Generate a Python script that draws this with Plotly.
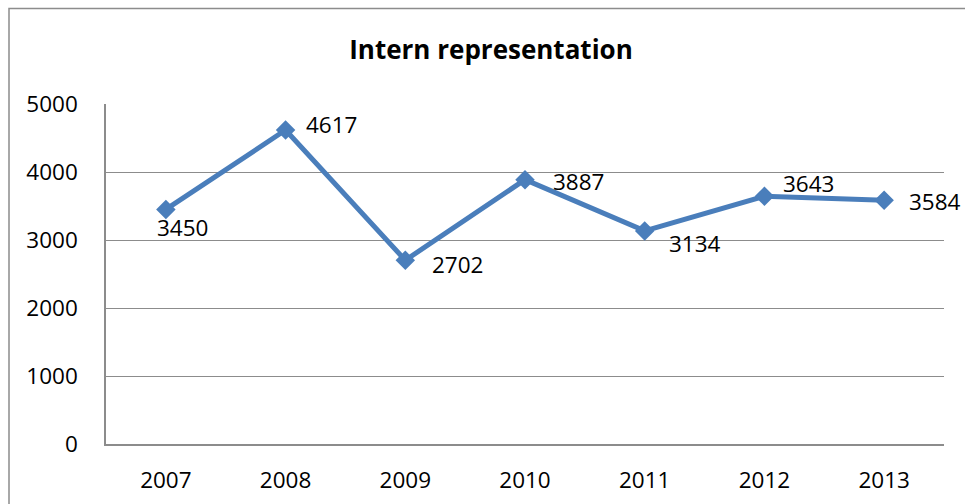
import plotly.graph_objects as go

years = ["2007", "2008", "2009", "2010", "2011", "2012", "2013"]
interns = [3450, 4617, 2702, 3887, 3134, 3643, 3584]
y_ticks = [0, 1000, 2000, 3000, 4000, 5000]
title_text = "Intern representation"

# label offsets (px) for each data label: (xshift, yshift)
label_shift = [(17, -18), (46, 6), (52, -4), (53, -2), (50, -13), (44, 13), (51, -1)]

FONT = "Open Sans"
W, H = 965, 504
L, T = 106, 104
PW, PH = 838, 340
R, B = W - L - PW, H - T - PH

fig = go.Figure()
fig.add_trace(go.Scatter(
    x=years, y=interns, mode="lines+markers",
    line=dict(color="#4A7EBB", width=5),
    marker=dict(symbol="diamond", size=15, color="#4A7EBB"),
    hoverinfo="x+y", showlegend=False,
))

for i, (yv, (dx, dy)) in enumerate(zip(interns, label_shift)):
    fig.add_annotation(x=i, y=yv, xref="x", yref="y", text=str(yv), showarrow=False,
                       xshift=dx, yshift=dy,
                       font=dict(family=FONT, size=22.5, color="#000000"))

# chart border
fig.add_shape(type="rect", xref="paper", yref="paper",
              x0=(9 - L) / PW, x1=(W + 20 - L) / PW,
              y0=-(B + 20) / PH, y1=1 + (T - 8.5) / PH,
              line=dict(color="#8C8C8C", width=1.5), layer="below")

fig.update_layout(
    width=W, height=H,
    margin=dict(l=L, r=R, t=T, b=B, autoexpand=False),
    paper_bgcolor="white", plot_bgcolor="white",
    title=dict(text="<b>" + title_text + "</b>", x=491 / W, xanchor="center",
               y=1 - 50 / H, yanchor="middle", yref="container",
               font=dict(family=FONT, size=26, color="#000000")),
    font=dict(family=FONT, size=22.5, color="#000000"),
)
fig.update_xaxes(type="category", range=[-0.5, 6.5], showgrid=False,
                 showline=True, linecolor="#8C8C8C", linewidth=1.5,
                 ticks="", ticklabelstandoff=15,
                 tickfont=dict(family=FONT, size=22.5, color="#000000"))
fig.update_yaxes(range=[0, 5000], tickvals=y_ticks, showgrid=True,
                 gridcolor="#8C8C8C", gridwidth=1.2, zeroline=False,
                 showline=True, linecolor="#8C8C8C", linewidth=1.5,
                 ticks="", ticklabelstandoff=22,
                 tickfont=dict(family=FONT, size=22.5, color="#000000"))

fig.write_html("out.html", config={"displayModeBar": False},
               post_script="document.body.style.margin='0';document.body.style.overflow='hidden';")
